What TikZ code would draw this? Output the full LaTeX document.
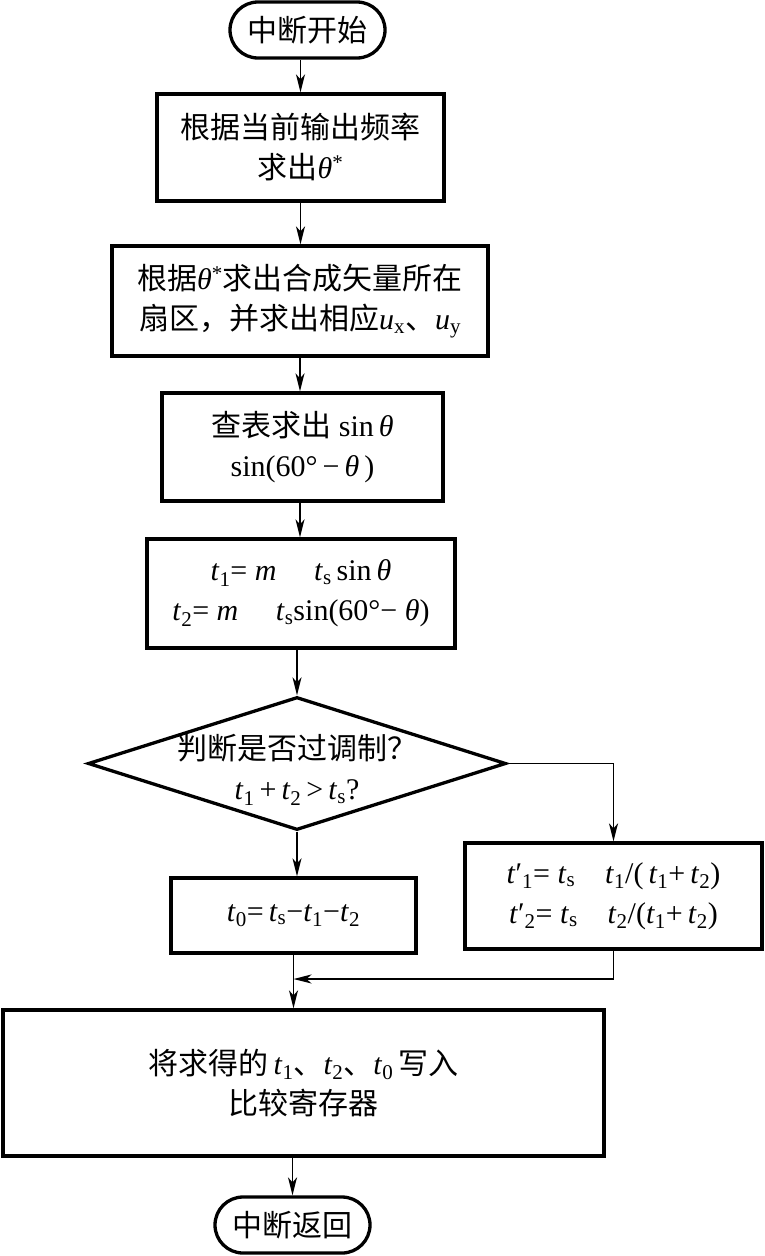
\documentclass[tikz,border=0pt]{standalone}
\usepackage{fontspec}
\setmainfont{Liberation Serif}
\newfontfamily\cjk{Noto Sans CJK SC}
\usetikzlibrary{arrows.meta,shapes.geometric,shapes.misc}
\newcommand{\myfs}{\fontsize{30}{40}\selectfont}
\newcommand{\vt}[1]{\textit{t}\textsubscript{#1}}
\newcommand{\vtp}[1]{\textit{t}′\textsubscript{#1}}
\newcommand{\thet}{\textit{θ}}
\begin{document}
\begin{tikzpicture}[x=1pt,y=-1pt,
  box/.style={draw, line width=3.3pt, rectangle, inner sep=0pt, align=center, font=\myfs},
  term/.style={draw, line width=3.3pt, rounded rectangle, inner sep=0pt, align=center, font=\myfs, minimum width=155pt, minimum height=56pt},
  decision/.style={draw, line width=3.3pt, diamond, inner sep=0pt, minimum width=418pt, minimum height=133pt},
  txt/.style={align=center, font=\myfs, inner sep=0pt},
  arr/.style={line width=1.8pt, -{Stealth[length=18pt,width=9pt,inset=5pt]}}]
\path[use as bounding box] (0,0) rectangle (764,1256);

\node[term] (start) at (307.5,30) {{\cjk 中断开始}};
\node[box, minimum width=287pt, minimum height=107pt] (b1) at (300.5,147.5)
  {{\cjk 根据当前输出频率}\\{\cjk 求出}\thet\textsuperscript{*}};
\node[box, minimum width=376pt, minimum height=110pt] (b2) at (300,301)
  {{\cjk 根据}\thet\textsuperscript{*}{\cjk 求出合成矢量所在}\\{\cjk 扇区，并求出相应}\textit{u}\textsubscript{x}{\cjk 、}\textit{u}\textsubscript{y}};
\node[box, minimum width=281pt, minimum height=108pt] (b3) at (302.5,447)
  {{\cjk 查表求出} sin\,\thet\\sin(60°\,−\,\thet\,)};
\node[box, minimum width=308pt, minimum height=109pt] (b4) at (301,593.5)
  {\vt{1}= \textit{m}\quad\ \vt{s}\,sin\,\thet\\\vt{2}= \textit{m}\quad\ \vt{s}sin(60°− \thet)};
\node[decision] (d) at (297,763.5) {};
\node[txt] (dt) at (297,770) {{\cjk 判断是否过调制？}\\\vt{1}\,+\,\vt{2}\,>\,\vt{s}?};
\node[box, minimum width=245pt, minimum height=75pt] (lb) at (293.5,915.5)
  {\vt{0}=\,\vt{s}−\vt{1}−\vt{2}};
\node[box, minimum width=297pt, minimum height=106pt] (rb) at (613.5,896)
  {\vtp{1}= \vt{s}\quad \vt{1}/(\,\vt{1}+\,\vt{2})\\\vtp{2}= \vt{s}\quad \vt{2}/(\vt{1}+\,\vt{2})};
\node[box, minimum width=601pt, minimum height=146pt] (big) at (303.5,1083)
  {{\cjk 将求得的}\,\vt{1}{\cjk 、}\vt{2}{\cjk 、}\vt{0}\,{\cjk 写入}\\{\cjk 比较寄存器}};
\node[term] (end) at (292.5,1225) {{\cjk 中断返回}};
\coordinate (m) at (293.5,979);

\draw[arr] (start.south -| b1.north) -- (b1.north);
\draw[arr] (b1.south) -- (b1.south |- b2.north);
\draw[arr] (b2.south) -- (b2.south |- b3.north);
\draw[arr] (b3.south -| b2.south) -- (b2.south |- b4.north);
\draw[arr] (b4.south -| d.north) -- (d.north);
\draw[arr] (d.south) -- (d.south |- lb.north);
\draw[arr] (d.east) -| (rb.north);
\draw[arr] (rb.south) |- (m);
\draw[arr] (lb.south) -- (lb.south |- big.north);
\draw[arr] (big.south -| end.north) -- (end.north);
\end{tikzpicture}
\end{document}
